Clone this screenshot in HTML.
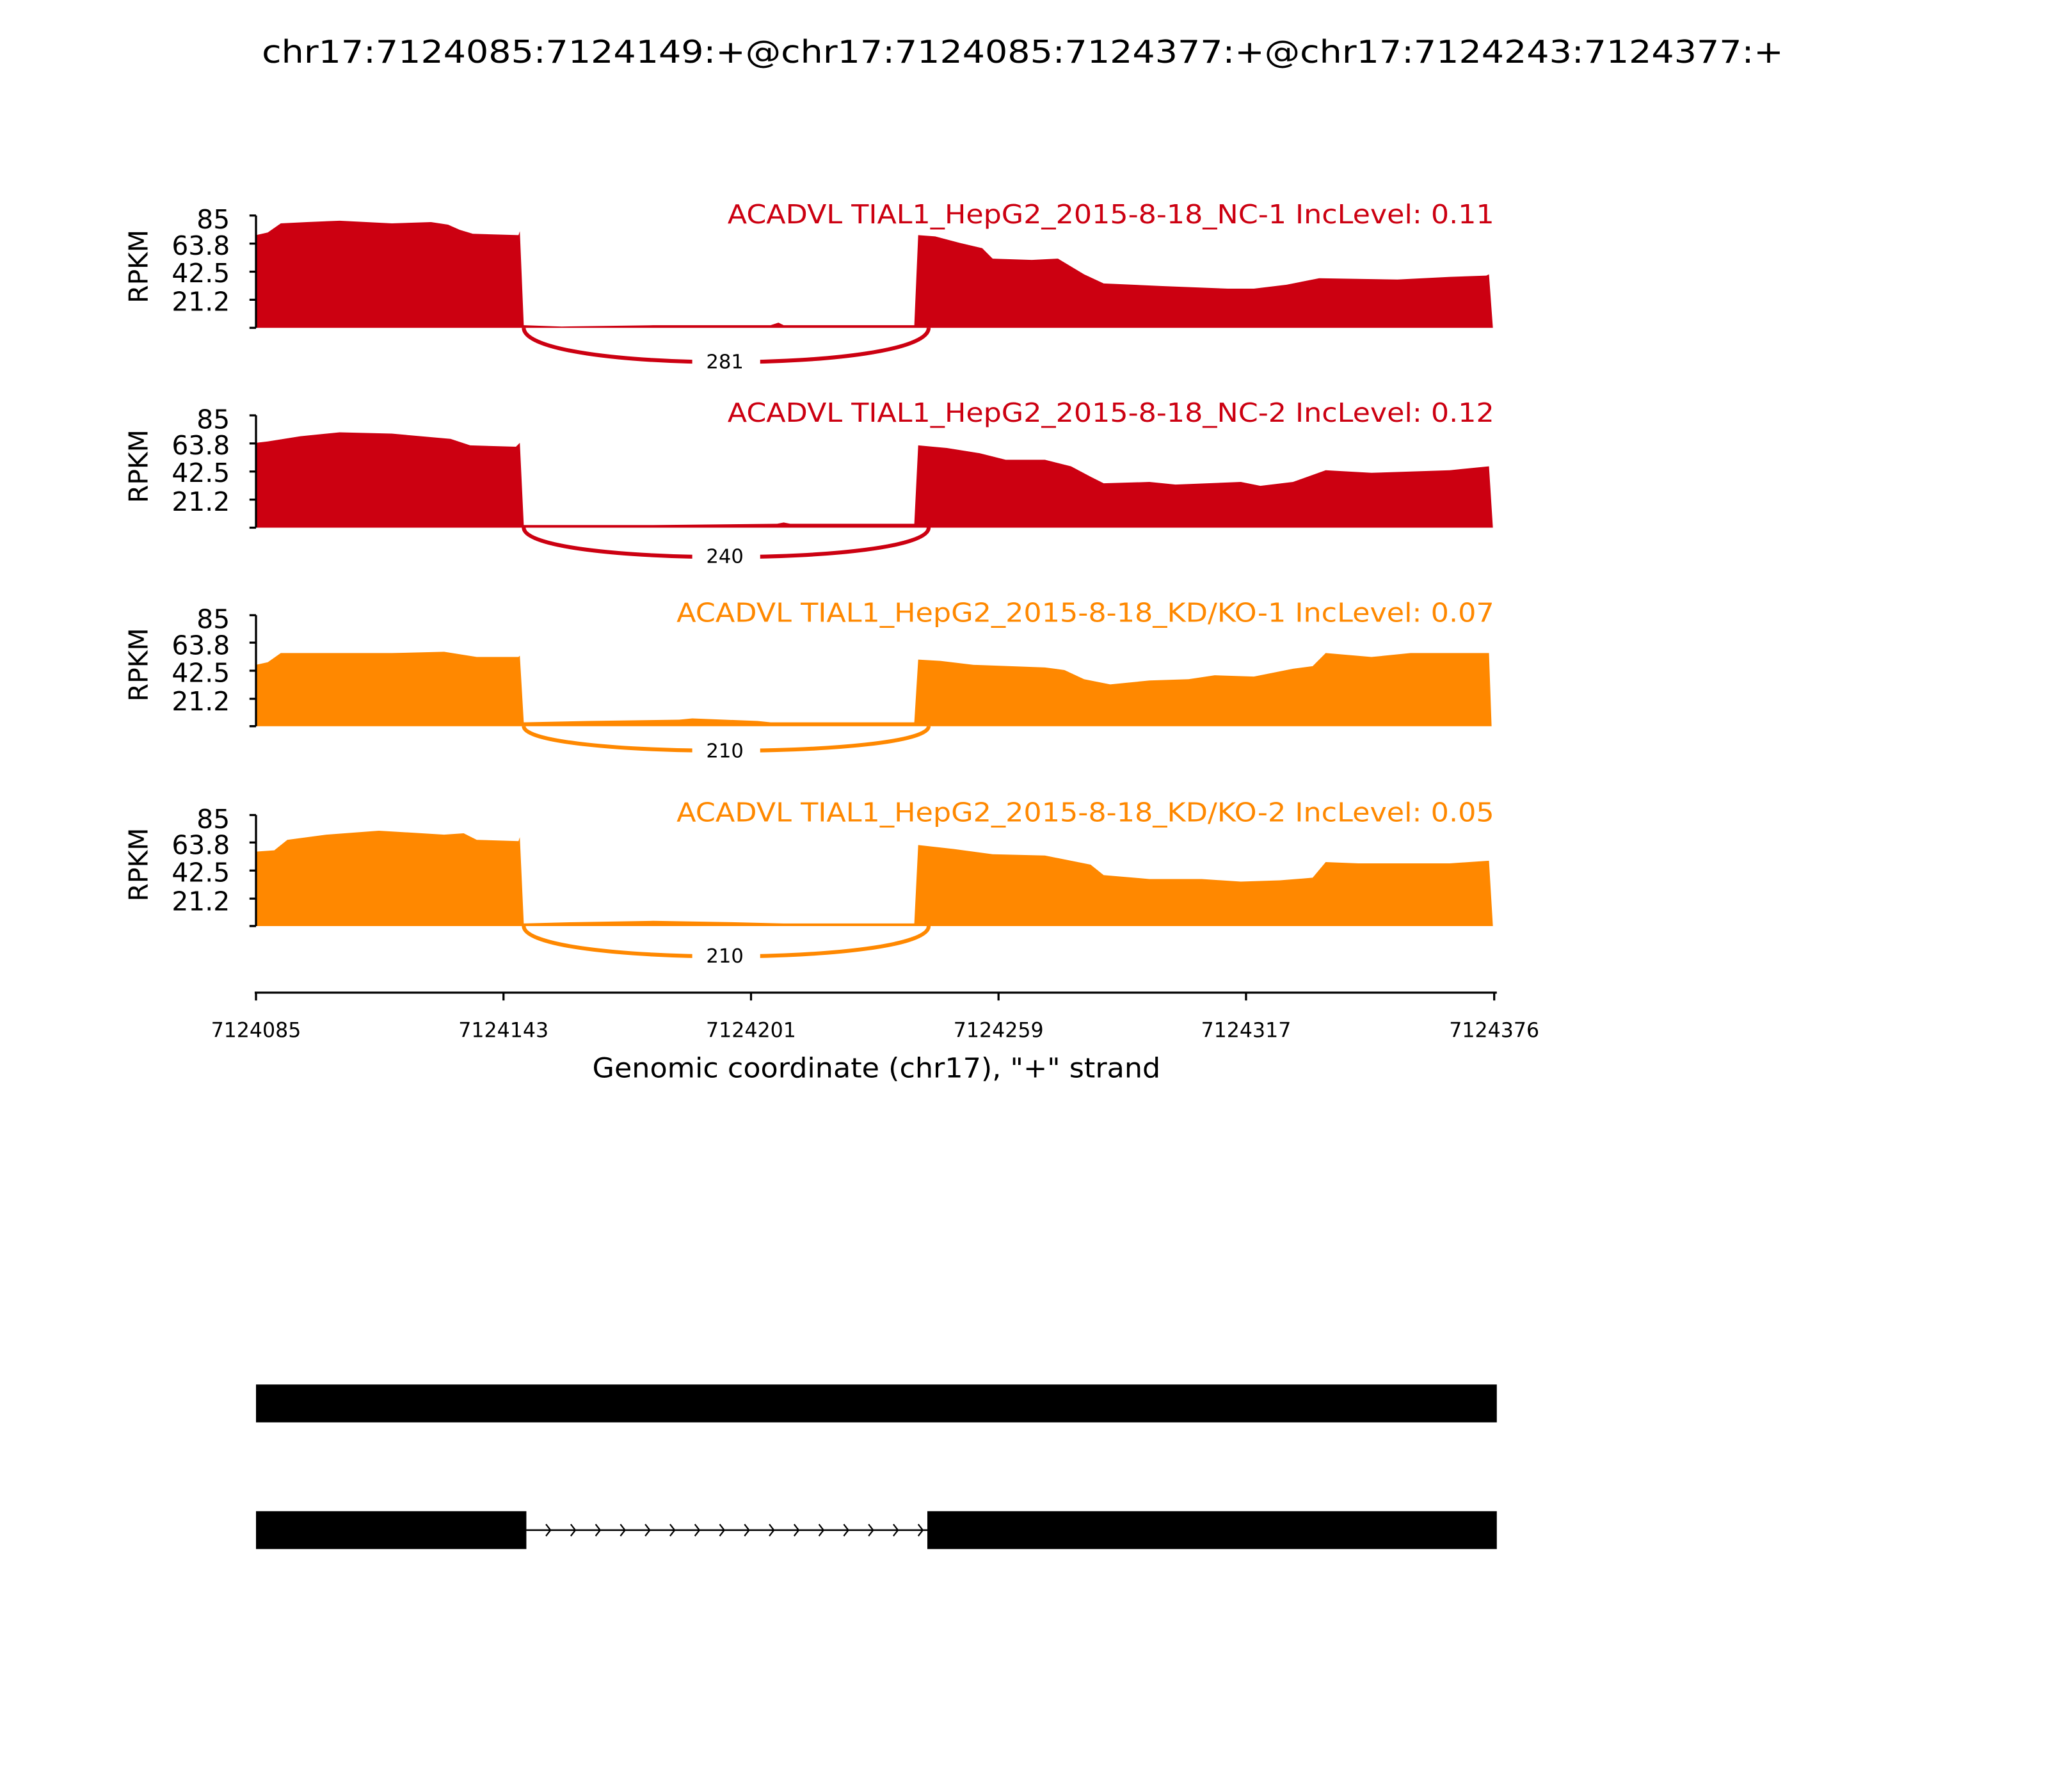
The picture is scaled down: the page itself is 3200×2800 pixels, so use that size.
<!DOCTYPE html>
<html><head><meta charset="utf-8"><style>html,body{margin:0;padding:0;background:#fff}svg{display:block}</style></head>
<body>
<svg width="3200" height="2800" viewBox="0 0 1568 1372" xmlns="http://www.w3.org/2000/svg" font-family="DejaVu Sans, Liberation Sans, sans-serif">
<rect width="1568" height="1372" fill="#fff"/>
<text x="783" y="48" font-size="24" text-anchor="middle" textLength="1165" lengthAdjust="spacingAndGlyphs">chr17:7124085:7124149:+@chr17:7124085:7124377:+@chr17:7124243:7124377:+</text>

<!-- Track 1 -->
<polygon fill="#cc0011" points="196,251 196,180 205,178 215,171 235,170 260,169 300,171 330,170 343,172 352,176 362,179 397,180 398,177 401,249 430,250 500,249 590,249 596,247 600,249 700,249 703,180 716,181 735,186 752,190 760,198 790,199 810,198 820,204 830,210 845,217 890,219 940,221 960,221 985,218 1010,213 1070,214 1110,212 1138,211 1140,210 1143,251"/>
<!-- Track 2 -->
<polygon fill="#cc0011" points="196,404 196,339 205,338 230,334 260,331 300,332 345,336 360,341 395,342 398,339 401,402 500,402 595,401 600,400 605,401 700,401 703,341 725,343 750,347 770,352 800,352 820,357 835,365 845,370 880,369 900,371 950,369 965,372 990,369 1015,360 1050,362 1110,360 1140,357 1143,404"/>
<!-- Track 3 -->
<polygon fill="#ff8800" points="196,556 196,509 205,507 215,500 300,500 340,499 365,503 397,503 398,502 401,553 450,552 520,551 530,550 580,552 590,553 700,553 703,505 720,506 745,509 800,511 815,513 830,520 850,524 880,521 910,520 930,517 960,518 990,512 1005,510 1015,500 1050,503 1080,500 1140,500 1142,556"/>
<!-- Track 4 -->
<polygon fill="#ff8800" points="196,709 196,652 210,651 220,643 250,639 290,636 340,639 355,638 365,643 397,644 398,641 401,707 440,706 500,705 560,706 600,707 700,707 703,647 730,650 760,654 800,655 820,659 835,662 845,670 880,673 920,673 950,675 980,674 1005,672 1015,660 1040,661 1070,661 1110,661 1140,659 1143,709"/>

<g fill="none" stroke-width="3">
<path d="M401,251 C401,286 711,286 711,251" stroke="#cc0011"/>
<path d="M401,404 C401,434 711,434 711,404" stroke="#cc0011"/>
<path d="M401,556 C401,581 711,581 711,556" stroke="#ff8800"/>
<path d="M401,709 C401,740 711,740 711,709" stroke="#ff8800"/>
</g>
<g fill="#fff"><rect x="530" y="264" width="52" height="24"/><rect x="530" y="413" width="52" height="24"/><rect x="530" y="563" width="52" height="24"/><rect x="530" y="719" width="52" height="24"/></g>
<g font-size="15" text-anchor="middle"><text x="555" y="282">281</text><text x="555" y="431">240</text><text x="555" y="580">210</text><text x="555" y="737">210</text></g>

<g font-size="20" text-anchor="end">
<text x="1144" y="171" fill="#cc0011" textLength="587" lengthAdjust="spacingAndGlyphs">ACADVL TIAL1_HepG2_2015-8-18_NC-1 IncLevel: 0.11</text>
<text x="1144" y="323" fill="#cc0011" textLength="587" lengthAdjust="spacingAndGlyphs">ACADVL TIAL1_HepG2_2015-8-18_NC-2 IncLevel: 0.12</text>
<text x="1144" y="476" fill="#ff8800" textLength="626" lengthAdjust="spacingAndGlyphs">ACADVL TIAL1_HepG2_2015-8-18_KD/KO-1 IncLevel: 0.07</text>
<text x="1144" y="629" fill="#ff8800" textLength="626" lengthAdjust="spacingAndGlyphs">ACADVL TIAL1_HepG2_2015-8-18_KD/KO-2 IncLevel: 0.05</text>
</g>

<!-- y axes -->
<g stroke="#000" stroke-width="1.6" fill="none">
<path d="M196,165V251M191,165H196M191,186.5H196M191,208H196M191,229.5H196M191,251H196"/>
<path d="M196,318V404M191,318H196M191,339.5H196M191,361H196M191,382.5H196M191,404H196"/>
<path d="M196,471V556M191,471H196M191,492H196M191,513.5H196M191,535H196M191,556H196"/>
<path d="M196,624V709M191,624H196M191,645H196M191,666.5H196M191,688H196M191,709H196"/>
</g>
<g font-size="20" text-anchor="end">
<text x="176" y="175">85</text><text x="176" y="195">63.8</text><text x="176" y="216">42.5</text><text x="176" y="238">21.2</text>
<text x="176" y="328">85</text><text x="176" y="348">63.8</text><text x="176" y="369">42.5</text><text x="176" y="391">21.2</text>
<text x="176" y="481">85</text><text x="176" y="501">63.8</text><text x="176" y="522">42.5</text><text x="176" y="544">21.2</text>
<text x="176" y="634">85</text><text x="176" y="654">63.8</text><text x="176" y="675">42.5</text><text x="176" y="697">21.2</text>
</g>
<g font-size="20" text-anchor="middle">
<text transform="translate(113,204) rotate(-90)">RPKM</text>
<text transform="translate(113,357) rotate(-90)">RPKM</text>
<text transform="translate(113,509) rotate(-90)">RPKM</text>
<text transform="translate(113,662) rotate(-90)">RPKM</text>
</g>

<!-- x axis -->
<g stroke="#000" stroke-width="1.6" fill="none">
<path d="M195,760H1146M196,760V766M385.5,760V766M575,760V766M764.5,760V766M954,760V766M1144,760V766"/>
</g>
<g font-size="15.5" text-anchor="middle">
<text x="196" y="794">7124085</text><text x="385.5" y="794">7124143</text><text x="575" y="794">7124201</text><text x="764.5" y="794">7124259</text><text x="954" y="794">7124317</text><text x="1144" y="794">7124376</text>
</g>
<text x="671" y="825" font-size="21" text-anchor="middle" textLength="435" lengthAdjust="spacingAndGlyphs">Genomic coordinate (chr17), "+" strand</text>

<!-- gene model -->
<rect x="196" y="1060" width="950" height="29" fill="#000"/>
<rect x="196" y="1157" width="207" height="29" fill="#000"/>
<rect x="710" y="1157" width="436" height="29" fill="#000"/>
<path d="M403,1171.5H710" stroke="#000" stroke-width="1.3"/>
<g stroke="#000" stroke-width="1.1" fill="none">
<path d="M418,1167l3.5,4.5l-3.5,4.5M437,1167l3.5,4.5l-3.5,4.5M456,1167l3.5,4.5l-3.5,4.5M475,1167l3.5,4.5l-3.5,4.5M494,1167l3.5,4.5l-3.5,4.5M513,1167l3.5,4.5l-3.5,4.5M532,1167l3.5,4.5l-3.5,4.5M551,1167l3.5,4.5l-3.5,4.5M570,1167l3.5,4.5l-3.5,4.5M589,1167l3.5,4.5l-3.5,4.5M608,1167l3.5,4.5l-3.5,4.5M627,1167l3.5,4.5l-3.5,4.5M646,1167l3.5,4.5l-3.5,4.5M665,1167l3.5,4.5l-3.5,4.5M684,1167l3.5,4.5l-3.5,4.5M703,1167l3.5,4.5l-3.5,4.5"/>
</g>
</svg>
</body></html>
